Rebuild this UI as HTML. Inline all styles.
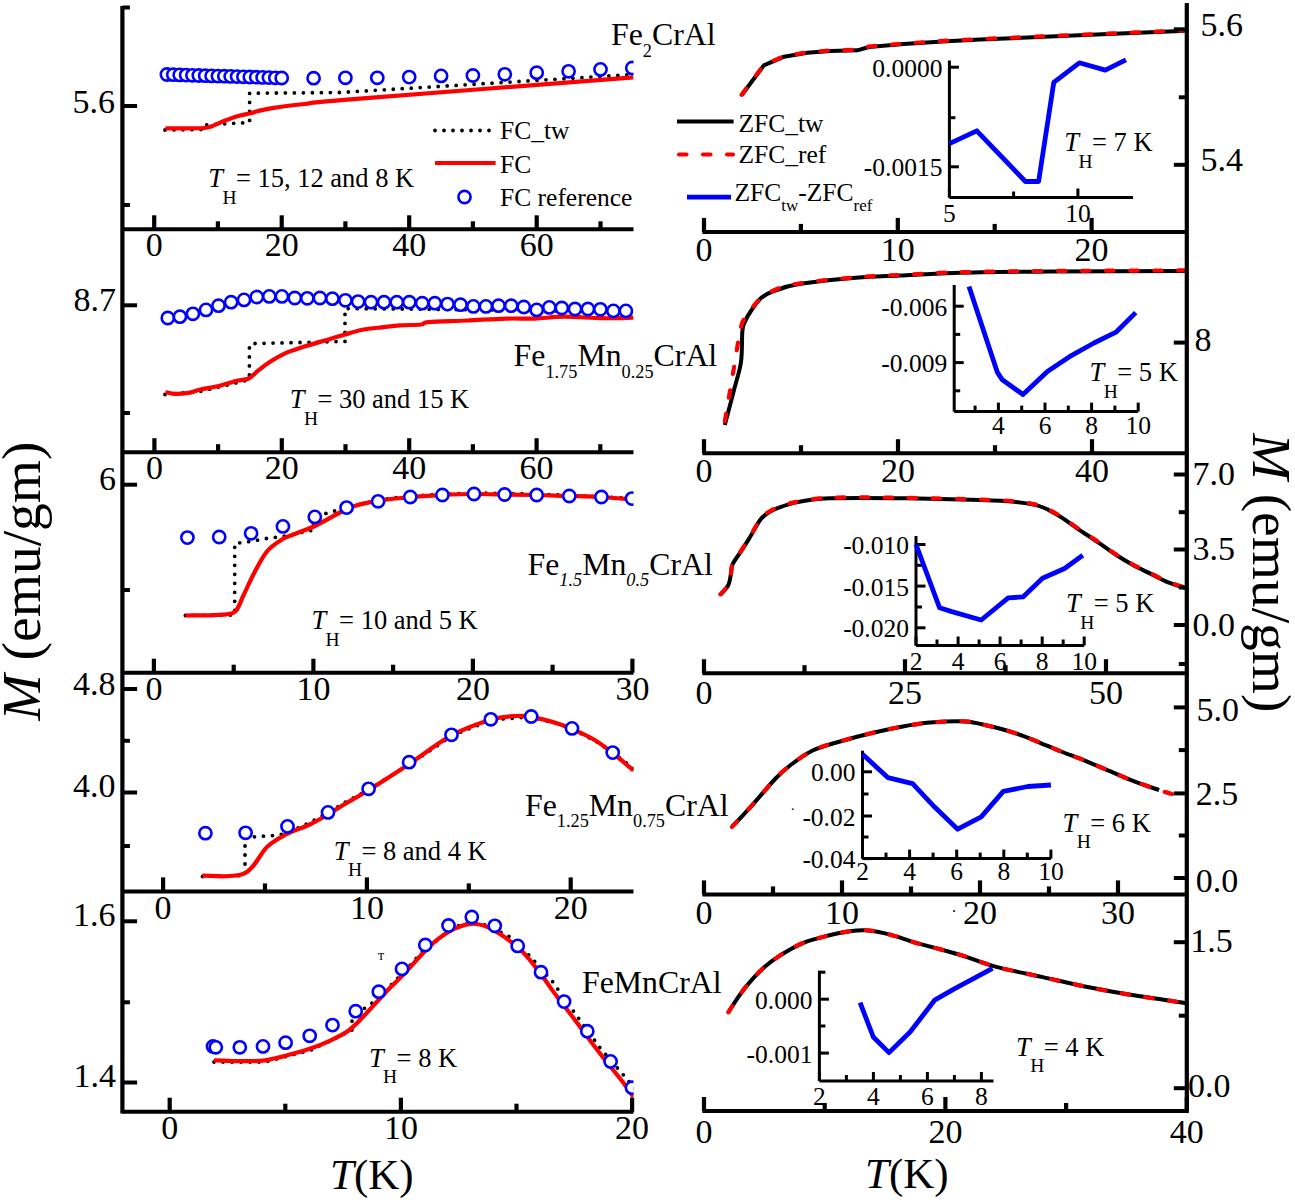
<!DOCTYPE html>
<html><head><meta charset="utf-8"><style>
html,body{margin:0;padding:0;background:#fff;overflow:hidden;}
svg{display:block;}
</style></head><body>
<svg width="1295" height="1202" viewBox="0 0 1295 1202">
<defs><clipPath id="cL1"><rect x="124" y="5" width="509.5" height="224.3"/></clipPath><clipPath id="cL2"><rect x="124" y="229.3" width="509.5" height="222.89999999999998"/></clipPath><clipPath id="cL3"><rect x="124" y="452.2" width="509.5" height="220.50000000000006"/></clipPath><clipPath id="cL4"><rect x="124" y="672.7" width="509.5" height="218.69999999999993"/></clipPath><clipPath id="cL5"><rect x="124" y="891.4" width="509.5" height="220.30000000000007"/></clipPath></defs>
<rect x="0" y="0" width="1295" height="1202" fill="#fff"/>
<g font-family='"Liberation Serif", serif' fill="#000">
<g clip-path="url(#cL1)">
<polyline points="165.0,130.0 204.0,129.5 205.6,124.9 249.6,122.5 249.6,93.2 255.0,93.2 340.0,92.5 633.5,74.5" fill="none" stroke="#000" stroke-width="3.8" stroke-linejoin="round" stroke-dasharray="0 9" stroke-linecap="round"/>
<path d="M165.4,128.3 C171.8,128.2 195.8,128.6 204.0,128.0 C212.2,127.4 211.6,126.1 214.9,124.9 C218.2,123.7 220.5,122.4 224.1,121.0 C227.7,119.6 232.1,117.7 236.5,116.4 C240.9,115.1 246.8,114.2 250.4,113.3 C254.0,112.4 254.2,111.9 258.1,111.0 C262.0,110.1 265.9,109.1 273.6,107.9 C281.3,106.7 291.7,105.4 304.4,104.0 C317.1,102.6 295.1,103.9 350.0,99.4 C404.9,95.0 586.2,81.0 633.5,77.3" fill="none" stroke="#ff0000" stroke-width="4.2" stroke-linejoin="round" />
<circle cx="166.9" cy="74.5" r="6.1" fill="#fff" stroke="#0000ff" stroke-width="2.6"/>
<circle cx="173.3" cy="74.7" r="6.1" fill="#fff" stroke="#0000ff" stroke-width="2.6"/>
<circle cx="179.7" cy="74.9" r="6.1" fill="#fff" stroke="#0000ff" stroke-width="2.6"/>
<circle cx="186.1" cy="75.1" r="6.1" fill="#fff" stroke="#0000ff" stroke-width="2.6"/>
<circle cx="192.4" cy="75.3" r="6.1" fill="#fff" stroke="#0000ff" stroke-width="2.6"/>
<circle cx="198.8" cy="75.5" r="6.1" fill="#fff" stroke="#0000ff" stroke-width="2.6"/>
<circle cx="205.2" cy="75.7" r="6.1" fill="#fff" stroke="#0000ff" stroke-width="2.6"/>
<circle cx="211.6" cy="75.9" r="6.1" fill="#fff" stroke="#0000ff" stroke-width="2.6"/>
<circle cx="217.9" cy="76.1" r="6.1" fill="#fff" stroke="#0000ff" stroke-width="2.6"/>
<circle cx="224.3" cy="76.2" r="6.1" fill="#fff" stroke="#0000ff" stroke-width="2.6"/>
<circle cx="230.7" cy="76.4" r="6.1" fill="#fff" stroke="#0000ff" stroke-width="2.6"/>
<circle cx="237.1" cy="76.6" r="6.1" fill="#fff" stroke="#0000ff" stroke-width="2.6"/>
<circle cx="243.4" cy="76.8" r="6.1" fill="#fff" stroke="#0000ff" stroke-width="2.6"/>
<circle cx="249.8" cy="77.0" r="6.1" fill="#fff" stroke="#0000ff" stroke-width="2.6"/>
<circle cx="256.2" cy="77.2" r="6.1" fill="#fff" stroke="#0000ff" stroke-width="2.6"/>
<circle cx="262.6" cy="77.4" r="6.1" fill="#fff" stroke="#0000ff" stroke-width="2.6"/>
<circle cx="268.9" cy="77.6" r="6.1" fill="#fff" stroke="#0000ff" stroke-width="2.6"/>
<circle cx="275.3" cy="77.8" r="6.1" fill="#fff" stroke="#0000ff" stroke-width="2.6"/>
<circle cx="281.7" cy="78.0" r="6.1" fill="#fff" stroke="#0000ff" stroke-width="2.6"/>
<circle cx="313.6" cy="78.2" r="6.1" fill="#fff" stroke="#0000ff" stroke-width="2.6"/>
<circle cx="345.4" cy="77.8" r="6.1" fill="#fff" stroke="#0000ff" stroke-width="2.6"/>
<circle cx="377.3" cy="77.8" r="6.1" fill="#fff" stroke="#0000ff" stroke-width="2.6"/>
<circle cx="409.2" cy="77.1" r="6.1" fill="#fff" stroke="#0000ff" stroke-width="2.6"/>
<circle cx="441.1" cy="75.9" r="6.1" fill="#fff" stroke="#0000ff" stroke-width="2.6"/>
<circle cx="472.9" cy="75.5" r="6.1" fill="#fff" stroke="#0000ff" stroke-width="2.6"/>
<circle cx="504.8" cy="74.3" r="6.1" fill="#fff" stroke="#0000ff" stroke-width="2.6"/>
<circle cx="536.7" cy="72.7" r="6.1" fill="#fff" stroke="#0000ff" stroke-width="2.6"/>
<circle cx="568.6" cy="71.3" r="6.1" fill="#fff" stroke="#0000ff" stroke-width="2.6"/>
<circle cx="600.5" cy="69.4" r="6.1" fill="#fff" stroke="#0000ff" stroke-width="2.6"/>
<circle cx="632.3" cy="68.0" r="6.1" fill="#fff" stroke="#0000ff" stroke-width="2.6"/>
</g>
<g clip-path="url(#cL2)">
<polyline points="165.0,394.5 200.0,391.5 248.0,380.0 249.4,378.0 249.4,344.7 255.0,343.5 300.0,342.5 345.0,341.4 345.0,308.6 400.0,309.0 500.0,310.0 633.5,312.0" fill="none" stroke="#000" stroke-width="3.8" stroke-linejoin="round" stroke-dasharray="0 9" stroke-linecap="round"/>
<path d="M165.4,392.0 C167.0,392.3 171.2,393.8 175.1,393.9 C179.0,394.0 184.4,393.6 188.6,392.9 C192.8,392.2 195.4,390.6 200.2,389.5 C205.0,388.4 211.5,387.6 217.6,386.2 C223.7,384.8 231.8,382.1 236.9,380.8 C242.1,379.5 245.0,380.2 248.5,378.5 C252.0,376.8 254.6,373.4 258.1,370.7 C261.6,367.9 265.2,364.9 269.7,362.0 C274.2,359.1 279.3,356.0 285.1,353.4 C290.9,350.8 298.0,348.7 304.4,346.6 C310.8,344.5 317.2,342.7 323.7,340.8 C330.1,338.9 336.7,336.8 343.1,335.0 C349.6,333.2 356.0,331.1 362.4,329.8 C368.8,328.5 375.4,328.0 381.7,327.3 C388.0,326.6 393.5,325.9 400.0,325.4 C406.5,324.9 416.1,325.1 420.9,324.5 C425.7,323.9 420.9,322.8 428.6,322.1 C436.3,321.4 454.3,321.1 467.2,320.5 C480.1,319.9 494.5,318.9 505.8,318.6 C517.1,318.3 525.1,318.9 534.8,318.6 C544.4,318.3 552.4,316.8 563.7,316.7 C575.0,316.6 590.8,318.0 602.4,318.2 C614.0,318.4 628.3,317.7 633.5,317.6" fill="none" stroke="#ff0000" stroke-width="4.2" stroke-linejoin="round" />
<circle cx="167.8" cy="318.0" r="6.1" fill="#fff" stroke="#0000ff" stroke-width="2.6"/>
<circle cx="179.9" cy="316.7" r="6.1" fill="#fff" stroke="#0000ff" stroke-width="2.6"/>
<circle cx="192.9" cy="313.8" r="6.1" fill="#fff" stroke="#0000ff" stroke-width="2.6"/>
<circle cx="206.0" cy="309.9" r="6.1" fill="#fff" stroke="#0000ff" stroke-width="2.6"/>
<circle cx="218.5" cy="305.7" r="6.1" fill="#fff" stroke="#0000ff" stroke-width="2.6"/>
<circle cx="231.1" cy="302.2" r="6.1" fill="#fff" stroke="#0000ff" stroke-width="2.6"/>
<circle cx="244.0" cy="299.9" r="6.1" fill="#fff" stroke="#0000ff" stroke-width="2.6"/>
<circle cx="256.8" cy="297.0" r="6.1" fill="#fff" stroke="#0000ff" stroke-width="2.6"/>
<circle cx="269.3" cy="296.4" r="6.1" fill="#fff" stroke="#0000ff" stroke-width="2.6"/>
<circle cx="281.9" cy="296.4" r="6.1" fill="#fff" stroke="#0000ff" stroke-width="2.6"/>
<circle cx="294.8" cy="298.0" r="6.1" fill="#fff" stroke="#0000ff" stroke-width="2.6"/>
<circle cx="307.3" cy="298.3" r="6.1" fill="#fff" stroke="#0000ff" stroke-width="2.6"/>
<circle cx="319.9" cy="298.0" r="6.1" fill="#fff" stroke="#0000ff" stroke-width="2.6"/>
<circle cx="332.4" cy="298.7" r="6.1" fill="#fff" stroke="#0000ff" stroke-width="2.6"/>
<circle cx="345.4" cy="300.3" r="6.1" fill="#fff" stroke="#0000ff" stroke-width="2.6"/>
<circle cx="358.1" cy="301.6" r="6.1" fill="#fff" stroke="#0000ff" stroke-width="2.6"/>
<circle cx="371.0" cy="302.2" r="6.1" fill="#fff" stroke="#0000ff" stroke-width="2.6"/>
<circle cx="384.0" cy="302.2" r="6.1" fill="#fff" stroke="#0000ff" stroke-width="2.6"/>
<circle cx="396.8" cy="302.2" r="6.1" fill="#fff" stroke="#0000ff" stroke-width="2.6"/>
<circle cx="409.3" cy="302.2" r="6.1" fill="#fff" stroke="#0000ff" stroke-width="2.6"/>
<circle cx="422.2" cy="303.2" r="6.1" fill="#fff" stroke="#0000ff" stroke-width="2.6"/>
<circle cx="434.8" cy="303.2" r="6.1" fill="#fff" stroke="#0000ff" stroke-width="2.6"/>
<circle cx="447.5" cy="304.1" r="6.1" fill="#fff" stroke="#0000ff" stroke-width="2.6"/>
<circle cx="460.5" cy="304.7" r="6.1" fill="#fff" stroke="#0000ff" stroke-width="2.6"/>
<circle cx="473.4" cy="306.4" r="6.1" fill="#fff" stroke="#0000ff" stroke-width="2.6"/>
<circle cx="485.9" cy="306.4" r="6.1" fill="#fff" stroke="#0000ff" stroke-width="2.6"/>
<circle cx="498.5" cy="305.7" r="6.1" fill="#fff" stroke="#0000ff" stroke-width="2.6"/>
<circle cx="511.2" cy="305.7" r="6.1" fill="#fff" stroke="#0000ff" stroke-width="2.6"/>
<circle cx="523.8" cy="307.0" r="6.1" fill="#fff" stroke="#0000ff" stroke-width="2.6"/>
<circle cx="536.7" cy="309.9" r="6.1" fill="#fff" stroke="#0000ff" stroke-width="2.6"/>
<circle cx="549.3" cy="307.4" r="6.1" fill="#fff" stroke="#0000ff" stroke-width="2.6"/>
<circle cx="561.8" cy="308.0" r="6.1" fill="#fff" stroke="#0000ff" stroke-width="2.6"/>
<circle cx="575.0" cy="309.0" r="6.1" fill="#fff" stroke="#0000ff" stroke-width="2.6"/>
<circle cx="587.9" cy="309.0" r="6.1" fill="#fff" stroke="#0000ff" stroke-width="2.6"/>
<circle cx="600.4" cy="309.3" r="6.1" fill="#fff" stroke="#0000ff" stroke-width="2.6"/>
<circle cx="613.4" cy="310.9" r="6.1" fill="#fff" stroke="#0000ff" stroke-width="2.6"/>
<circle cx="625.9" cy="310.9" r="6.1" fill="#fff" stroke="#0000ff" stroke-width="2.6"/>
</g>
<g clip-path="url(#cL3)">
<polyline points="185.4,615.5 234.7,615.0 234.7,543.4 251.0,541.4 266.5,538.5 282.0,536.6 313.5,530.0 313.5,520.0 324.0,514.0 340.0,509.5 378.0,500.0 410.0,496.0 474.0,493.0 536.7,494.0 633.5,498.5" fill="none" stroke="#000" stroke-width="3.8" stroke-linejoin="round" stroke-dasharray="0 9" stroke-linecap="round"/>
<path d="M185.4,615.5 C190.9,615.4 210.1,615.4 218.3,614.8 C226.5,614.2 230.5,615.1 234.7,611.9 C238.9,608.7 240.3,601.6 243.4,595.5 C246.5,589.4 249.2,582.5 253.0,575.2 C256.9,568.0 261.7,558.0 266.5,552.0 C271.3,546.0 277.2,542.5 282.0,539.5 C286.8,536.5 290.0,536.0 295.5,533.7 C301.0,531.5 307.4,529.5 314.8,526.0 C322.2,522.5 333.1,515.9 339.9,512.5 C346.6,509.1 348.9,507.6 355.3,505.7 C361.7,503.8 369.3,502.3 378.5,500.9 C387.7,499.4 399.7,498.0 410.3,497.0 C420.9,496.0 431.8,495.5 442.4,495.0 C453.0,494.5 463.6,494.1 474.0,494.0 C484.4,493.9 494.2,494.3 504.6,494.5 C515.1,494.7 525.9,494.8 536.7,495.0 C547.5,495.2 558.5,495.7 569.3,496.0 C580.1,496.3 590.7,496.4 601.4,497.0 C612.1,497.6 628.1,499.2 633.5,499.6" fill="none" stroke="#ff0000" stroke-width="4.2" stroke-linejoin="round" />
<circle cx="187.4" cy="537.6" r="6.1" fill="#fff" stroke="#0000ff" stroke-width="2.6"/>
<circle cx="219.2" cy="537.0" r="6.1" fill="#fff" stroke="#0000ff" stroke-width="2.6"/>
<circle cx="251.1" cy="533.3" r="6.1" fill="#fff" stroke="#0000ff" stroke-width="2.6"/>
<circle cx="282.9" cy="526.4" r="6.1" fill="#fff" stroke="#0000ff" stroke-width="2.6"/>
<circle cx="314.8" cy="516.9" r="6.1" fill="#fff" stroke="#0000ff" stroke-width="2.6"/>
<circle cx="346.6" cy="507.6" r="6.1" fill="#fff" stroke="#0000ff" stroke-width="2.6"/>
<circle cx="378.1" cy="501.3" r="6.1" fill="#fff" stroke="#0000ff" stroke-width="2.6"/>
<circle cx="410.3" cy="497.0" r="6.1" fill="#fff" stroke="#0000ff" stroke-width="2.6"/>
<circle cx="442.4" cy="495.0" r="6.1" fill="#fff" stroke="#0000ff" stroke-width="2.6"/>
<circle cx="474.0" cy="494.0" r="6.1" fill="#fff" stroke="#0000ff" stroke-width="2.6"/>
<circle cx="504.6" cy="494.5" r="6.1" fill="#fff" stroke="#0000ff" stroke-width="2.6"/>
<circle cx="536.7" cy="495.0" r="6.1" fill="#fff" stroke="#0000ff" stroke-width="2.6"/>
<circle cx="569.3" cy="496.0" r="6.1" fill="#fff" stroke="#0000ff" stroke-width="2.6"/>
<circle cx="601.4" cy="497.0" r="6.1" fill="#fff" stroke="#0000ff" stroke-width="2.6"/>
<circle cx="632.0" cy="498.6" r="6.1" fill="#fff" stroke="#0000ff" stroke-width="2.6"/>
</g>
<g clip-path="url(#cL4)">
<polyline points="202.5,876.5 245.0,875.5 245.0,837.5 278.8,835.1 287.0,833.0 309.7,822.5 330.0,811.9 345.4,802.2 368.6,789.7 409.1,764.7 452.5,735.4 491.8,719.7 531.2,716.9 560.0,724.4 575.0,730.5 596.6,741.5 614.7,754.0 633.5,768.5" fill="none" stroke="#000" stroke-width="3.8" stroke-linejoin="round" stroke-dasharray="0 9" stroke-linecap="round"/>
<path d="M202.5,875.7 C209.4,875.4 233.2,878.5 244.0,873.7 C254.8,868.9 260.1,853.3 267.2,846.7 C274.3,840.1 279.4,837.9 286.5,834.2 C293.6,830.5 302.6,827.9 309.7,824.5 C316.8,821.1 323.2,817.3 329.0,813.9 C334.8,810.5 338.0,808.1 344.4,804.2 C350.8,800.3 357.0,797.3 367.6,790.7 C378.2,784.1 394.1,773.9 408.1,764.7 C422.1,755.5 437.7,742.9 451.5,735.4 C465.3,727.9 480.2,722.9 490.8,719.7 C501.4,716.5 508.2,716.5 514.9,716.0 C521.6,715.5 524.1,715.7 531.2,716.9 C538.3,718.1 550.7,721.4 557.5,723.4 C564.3,725.4 565.8,726.1 572.0,728.9 C578.2,731.7 587.8,736.0 594.6,740.0 C601.4,744.0 606.2,747.9 612.7,753.0 C619.2,758.1 630.0,767.6 633.5,770.5" fill="none" stroke="#ff0000" stroke-width="4.2" stroke-linejoin="round" />
<circle cx="205.4" cy="833.2" r="6.1" fill="#fff" stroke="#0000ff" stroke-width="2.6"/>
<circle cx="245.6" cy="832.8" r="6.1" fill="#fff" stroke="#0000ff" stroke-width="2.6"/>
<circle cx="287.5" cy="826.4" r="6.1" fill="#fff" stroke="#0000ff" stroke-width="2.6"/>
<circle cx="328.0" cy="812.4" r="6.1" fill="#fff" stroke="#0000ff" stroke-width="2.6"/>
<circle cx="368.6" cy="788.8" r="6.1" fill="#fff" stroke="#0000ff" stroke-width="2.6"/>
<circle cx="409.1" cy="762.2" r="6.1" fill="#fff" stroke="#0000ff" stroke-width="2.6"/>
<circle cx="451.5" cy="734.8" r="6.1" fill="#fff" stroke="#0000ff" stroke-width="2.6"/>
<circle cx="490.8" cy="719.3" r="6.1" fill="#fff" stroke="#0000ff" stroke-width="2.6"/>
<circle cx="531.2" cy="716.5" r="6.1" fill="#fff" stroke="#0000ff" stroke-width="2.6"/>
<circle cx="572.0" cy="728.4" r="6.1" fill="#fff" stroke="#0000ff" stroke-width="2.6"/>
<circle cx="612.7" cy="752.6" r="6.1" fill="#fff" stroke="#0000ff" stroke-width="2.6"/>
</g>
<g clip-path="url(#cL5)">
<polyline points="214.0,1062.0 264.9,1062.0 311.0,1050.0 348.0,1032.0 352.0,1030.0 352.0,1021.0 363.0,1009.3 372.4,1002.9 385.3,990.7 403.9,972.1 422.4,951.7 454.0,927.0 471.0,922.0 488.0,925.5 510.0,937.0 525.3,951.0 552.5,981.6 572.9,1010.4 600.0,1047.8 625.6,1077.5 640.0,1095.0" fill="none" stroke="#000" stroke-width="3.8" stroke-linejoin="round" stroke-dasharray="0 9" stroke-linecap="round"/>
<path d="M213.9,1060.3 C217.8,1060.5 228.6,1061.2 237.1,1061.2 C245.6,1061.2 255.6,1061.5 264.9,1060.3 C274.2,1059.1 285.0,1055.8 292.7,1053.8 C300.4,1051.8 305.0,1050.5 311.2,1048.3 C317.4,1046.1 323.5,1043.7 329.7,1040.8 C335.9,1037.9 342.7,1034.7 348.3,1030.7 C353.9,1026.7 356.9,1023.1 363.1,1016.8 C369.3,1010.5 378.5,999.8 385.3,992.7 C392.1,985.6 397.7,980.6 403.9,974.1 C410.1,967.6 416.9,959.4 422.4,953.7 C427.9,948.0 431.7,944.0 437.0,939.9 C442.3,935.8 448.3,931.6 454.0,928.9 C459.7,926.2 465.3,924.1 471.0,923.8 C476.7,923.5 482.3,924.9 488.0,927.2 C493.7,929.5 499.4,933.4 505.0,937.4 C510.6,941.4 516.2,945.3 521.9,951.0 C527.5,956.7 533.2,964.0 538.9,971.4 C544.6,978.8 550.2,987.5 555.9,995.1 C561.6,1002.7 567.2,1009.7 572.9,1017.2 C578.6,1024.7 584.2,1032.7 589.9,1040.2 C595.6,1047.7 601.2,1055.0 606.9,1062.2 C612.6,1069.4 619.5,1077.7 623.9,1083.5 C628.3,1089.3 631.9,1094.8 633.5,1097.0" fill="none" stroke="#ff0000" stroke-width="4.2" stroke-linejoin="round" />
<circle cx="213.0" cy="1046.4" r="6.1" fill="#fff" stroke="#0000ff" stroke-width="2.6"/>
<circle cx="215.8" cy="1047.3" r="6.1" fill="#fff" stroke="#0000ff" stroke-width="2.6"/>
<circle cx="239.8" cy="1047.3" r="6.1" fill="#fff" stroke="#0000ff" stroke-width="2.6"/>
<circle cx="263.0" cy="1046.4" r="6.1" fill="#fff" stroke="#0000ff" stroke-width="2.6"/>
<circle cx="285.6" cy="1042.7" r="6.1" fill="#fff" stroke="#0000ff" stroke-width="2.6"/>
<circle cx="309.7" cy="1035.8" r="6.1" fill="#fff" stroke="#0000ff" stroke-width="2.6"/>
<circle cx="332.5" cy="1025.1" r="6.1" fill="#fff" stroke="#0000ff" stroke-width="2.6"/>
<circle cx="355.7" cy="1011.2" r="6.1" fill="#fff" stroke="#0000ff" stroke-width="2.6"/>
<circle cx="378.8" cy="991.7" r="6.1" fill="#fff" stroke="#0000ff" stroke-width="2.6"/>
<circle cx="402.0" cy="968.9" r="6.1" fill="#fff" stroke="#0000ff" stroke-width="2.6"/>
<circle cx="425.3" cy="945.0" r="6.1" fill="#fff" stroke="#0000ff" stroke-width="2.6"/>
<circle cx="448.5" cy="925.5" r="6.1" fill="#fff" stroke="#0000ff" stroke-width="2.6"/>
<circle cx="471.8" cy="917.0" r="6.1" fill="#fff" stroke="#0000ff" stroke-width="2.6"/>
<circle cx="494.8" cy="925.8" r="6.1" fill="#fff" stroke="#0000ff" stroke-width="2.6"/>
<circle cx="517.7" cy="945.9" r="6.1" fill="#fff" stroke="#0000ff" stroke-width="2.6"/>
<circle cx="541.0" cy="972.2" r="6.1" fill="#fff" stroke="#0000ff" stroke-width="2.6"/>
<circle cx="564.1" cy="1001.6" r="6.1" fill="#fff" stroke="#0000ff" stroke-width="2.6"/>
<circle cx="587.3" cy="1031.2" r="6.1" fill="#fff" stroke="#0000ff" stroke-width="2.6"/>
<circle cx="610.6" cy="1061.4" r="6.1" fill="#fff" stroke="#0000ff" stroke-width="2.6"/>
<circle cx="632.0" cy="1087.7" r="6.1" fill="#fff" stroke="#0000ff" stroke-width="2.6"/>
</g>
<text x="377.9" y="960.0" font-size="14" text-anchor="start" >т</text>
<line x1="122.4" y1="6.0" x2="122.4" y2="1113.5" stroke="#000" stroke-width="4.2" />
<line x1="122.4" y1="229.3" x2="633.5" y2="229.3" stroke="#000" stroke-width="4.0" />
<line x1="154.2" y1="229.3" x2="154.2" y2="215.3" stroke="#000" stroke-width="4.2" />
<line x1="281.7" y1="229.3" x2="281.7" y2="215.3" stroke="#000" stroke-width="4.2" />
<line x1="409.2" y1="229.3" x2="409.2" y2="215.3" stroke="#000" stroke-width="4.2" />
<line x1="536.7" y1="229.3" x2="536.7" y2="215.3" stroke="#000" stroke-width="4.2" />
<line x1="217.9" y1="229.3" x2="217.9" y2="221.3" stroke="#000" stroke-width="4.2" />
<line x1="345.4" y1="229.3" x2="345.4" y2="221.3" stroke="#000" stroke-width="4.2" />
<line x1="472.9" y1="229.3" x2="472.9" y2="221.3" stroke="#000" stroke-width="4.2" />
<line x1="600.5" y1="229.3" x2="600.5" y2="221.3" stroke="#000" stroke-width="4.2" />
<text x="154.2" y="256.3" font-size="34" text-anchor="middle" >0</text>
<text x="281.7" y="256.3" font-size="34" text-anchor="middle" >20</text>
<text x="409.2" y="256.3" font-size="34" text-anchor="middle" >40</text>
<text x="536.7" y="256.3" font-size="34" text-anchor="middle" >60</text>
<line x1="122.4" y1="106.0" x2="137.1" y2="106.0" stroke="#000" stroke-width="4.0" />
<line x1="122.4" y1="7.5" x2="129.9" y2="7.5" stroke="#000" stroke-width="4.0" />
<line x1="122.4" y1="205.0" x2="129.9" y2="205.0" stroke="#000" stroke-width="4.0" />
<text x="115.0" y="112.5" font-size="34" text-anchor="end" >5.6</text>
<line x1="122.4" y1="452.2" x2="633.5" y2="452.2" stroke="#000" stroke-width="4.0" />
<line x1="154.4" y1="452.2" x2="154.4" y2="438.2" stroke="#000" stroke-width="4.2" />
<line x1="281.8" y1="452.2" x2="281.8" y2="438.2" stroke="#000" stroke-width="4.2" />
<line x1="409.2" y1="452.2" x2="409.2" y2="438.2" stroke="#000" stroke-width="4.2" />
<line x1="536.6" y1="452.2" x2="536.6" y2="438.2" stroke="#000" stroke-width="4.2" />
<line x1="218.1" y1="452.2" x2="218.1" y2="444.2" stroke="#000" stroke-width="4.2" />
<line x1="345.5" y1="452.2" x2="345.5" y2="444.2" stroke="#000" stroke-width="4.2" />
<line x1="472.9" y1="452.2" x2="472.9" y2="444.2" stroke="#000" stroke-width="4.2" />
<line x1="600.3" y1="452.2" x2="600.3" y2="444.2" stroke="#000" stroke-width="4.2" />
<text x="154.4" y="479.0" font-size="34" text-anchor="middle" >0</text>
<text x="281.8" y="479.0" font-size="34" text-anchor="middle" >20</text>
<text x="409.2" y="479.0" font-size="34" text-anchor="middle" >40</text>
<text x="536.6" y="479.0" font-size="34" text-anchor="middle" >60</text>
<line x1="122.4" y1="305.3" x2="137.1" y2="305.3" stroke="#000" stroke-width="4.0" />
<line x1="122.4" y1="413.0" x2="129.9" y2="413.0" stroke="#000" stroke-width="4.0" />
<text x="116.0" y="310.5" font-size="34" text-anchor="end" >8.7</text>
<line x1="122.4" y1="672.7" x2="633.5" y2="672.7" stroke="#000" stroke-width="4.0" />
<line x1="153.9" y1="672.7" x2="153.9" y2="658.7" stroke="#000" stroke-width="4.2" />
<line x1="313.4" y1="672.7" x2="313.4" y2="658.7" stroke="#000" stroke-width="4.2" />
<line x1="472.9" y1="672.7" x2="472.9" y2="658.7" stroke="#000" stroke-width="4.2" />
<line x1="632.4" y1="672.7" x2="632.4" y2="658.7" stroke="#000" stroke-width="4.2" />
<line x1="233.7" y1="672.7" x2="233.7" y2="664.7" stroke="#000" stroke-width="4.2" />
<line x1="393.1" y1="672.7" x2="393.1" y2="664.7" stroke="#000" stroke-width="4.2" />
<line x1="552.6" y1="672.7" x2="552.6" y2="664.7" stroke="#000" stroke-width="4.2" />
<text x="153.9" y="700.0" font-size="34" text-anchor="middle" >0</text>
<text x="313.4" y="700.0" font-size="34" text-anchor="middle" >10</text>
<text x="472.9" y="700.0" font-size="34" text-anchor="middle" >20</text>
<text x="632.4" y="700.0" font-size="34" text-anchor="middle" >30</text>
<line x1="122.4" y1="484.7" x2="137.1" y2="484.7" stroke="#000" stroke-width="4.0" />
<line x1="122.4" y1="590.0" x2="129.9" y2="590.0" stroke="#000" stroke-width="4.0" />
<text x="116.0" y="490.0" font-size="34" text-anchor="end" >6</text>
<line x1="122.4" y1="891.4" x2="633.5" y2="891.4" stroke="#000" stroke-width="4.0" />
<line x1="163.1" y1="891.4" x2="163.1" y2="877.4" stroke="#000" stroke-width="4.2" />
<line x1="366.9" y1="891.4" x2="366.9" y2="877.4" stroke="#000" stroke-width="4.2" />
<line x1="570.7" y1="891.4" x2="570.7" y2="877.4" stroke="#000" stroke-width="4.2" />
<line x1="265.0" y1="891.4" x2="265.0" y2="883.4" stroke="#000" stroke-width="4.2" />
<line x1="468.8" y1="891.4" x2="468.8" y2="883.4" stroke="#000" stroke-width="4.2" />
<text x="163.1" y="918.5" font-size="34" text-anchor="middle" >0</text>
<text x="366.9" y="918.5" font-size="34" text-anchor="middle" >10</text>
<text x="570.7" y="918.5" font-size="34" text-anchor="middle" >20</text>
<line x1="122.4" y1="689.0" x2="137.1" y2="689.0" stroke="#000" stroke-width="4.0" />
<line x1="122.4" y1="792.5" x2="137.1" y2="792.5" stroke="#000" stroke-width="4.0" />
<line x1="122.4" y1="740.8" x2="129.9" y2="740.8" stroke="#000" stroke-width="4.0" />
<line x1="122.4" y1="846.0" x2="129.9" y2="846.0" stroke="#000" stroke-width="4.0" />
<text x="115.5" y="694.5" font-size="34" text-anchor="end" >4.8</text>
<text x="115.5" y="797.0" font-size="34" text-anchor="end" >4.0</text>
<line x1="122.4" y1="1111.7" x2="633.5" y2="1111.7" stroke="#000" stroke-width="4.0" />
<line x1="169.7" y1="1111.7" x2="169.7" y2="1097.7" stroke="#000" stroke-width="4.2" />
<line x1="400.9" y1="1111.7" x2="400.9" y2="1097.7" stroke="#000" stroke-width="4.2" />
<line x1="632.1" y1="1111.7" x2="632.1" y2="1097.7" stroke="#000" stroke-width="4.2" />
<line x1="285.3" y1="1111.7" x2="285.3" y2="1103.7" stroke="#000" stroke-width="4.2" />
<line x1="516.5" y1="1111.7" x2="516.5" y2="1103.7" stroke="#000" stroke-width="4.2" />
<text x="169.7" y="1139.0" font-size="34" text-anchor="middle" >0</text>
<text x="400.9" y="1139.0" font-size="34" text-anchor="middle" >10</text>
<text x="632.1" y="1139.0" font-size="34" text-anchor="middle" >20</text>
<line x1="122.4" y1="921.3" x2="137.1" y2="921.3" stroke="#000" stroke-width="4.0" />
<line x1="122.4" y1="1082.5" x2="137.1" y2="1082.5" stroke="#000" stroke-width="4.0" />
<line x1="122.4" y1="1002.3" x2="129.9" y2="1002.3" stroke="#000" stroke-width="4.0" />
<text x="115.5" y="926.0" font-size="34" text-anchor="end" >1.6</text>
<text x="116.0" y="1086.5" font-size="34" text-anchor="end" >1.4</text>
<line x1="435.0" y1="130.5" x2="490.0" y2="130.5" stroke="#000" stroke-width="3.8" stroke-dasharray="0 9" stroke-linecap="round"/>
<text x="500.0" y="139.0" font-size="25.5" text-anchor="start" >FC_tw</text>
<line x1="435.0" y1="163.0" x2="495.6" y2="163.0" stroke="#ff0000" stroke-width="4.2" />
<text x="500.0" y="173.0" font-size="25.5" text-anchor="start" >FC</text>
<circle cx="464.5" cy="197.0" r="6.1" fill="#fff" stroke="#0000ff" stroke-width="2.6"/>
<text x="500.0" y="205.7" font-size="25.5" text-anchor="start" >FC reference</text>
<text x="208.2" y="187.2" font-size="26.5" font-style="italic">T</text>
<text x="222.4" y="204.0" font-size="19.5">H</text>
<text x="235.9" y="187.2" font-size="26.5">= 15, 12 and 8 K</text>
<text x="289.7" y="408.0" font-size="26.5" font-style="italic">T</text>
<text x="303.9" y="424.8" font-size="19.5">H</text>
<text x="317.4" y="408.0" font-size="26.5">= 30 and 15 K</text>
<text x="311.4" y="628.7" font-size="26.5" font-style="italic">T</text>
<text x="325.6" y="645.5" font-size="19.5">H</text>
<text x="339.1" y="628.7" font-size="26.5">= 10 and 5 K</text>
<text x="333.7" y="859.6" font-size="26.5" font-style="italic">T</text>
<text x="347.9" y="876.4" font-size="19.5">H</text>
<text x="361.4" y="859.6" font-size="26.5">= 8 and 4 K</text>
<text x="368.9" y="1066.5" font-size="26.5" font-style="italic">T</text>
<text x="383.1" y="1083.3" font-size="19.5">H</text>
<text x="396.6" y="1066.5" font-size="26.5">= 8 K</text>
<text x="611.0" y="45.0" font-size="31.8"><tspan dy="0">Fe</tspan><tspan dy="11.5" font-size="18.3">2</tspan><tspan dy="-11.5">CrAl</tspan></text>
<text x="513.6" y="366.3" font-size="31.8"><tspan dy="0">Fe</tspan><tspan dy="11.5" font-size="18.3">1.75</tspan><tspan dy="-11.5">Mn</tspan><tspan dy="11.5" font-size="18.3">0.25</tspan><tspan dy="-11.5">CrAl</tspan></text>
<text x="527.5" y="574.5" font-size="31.8"><tspan dy="0">Fe</tspan><tspan dy="11.5" font-size="18.3" font-style="italic">1.5</tspan><tspan dy="-11.5">Mn</tspan><tspan dy="11.5" font-size="18.3" font-style="italic">0.5</tspan><tspan dy="-11.5">CrAl</tspan></text>
<text x="525.0" y="815.5" font-size="31.8"><tspan dy="0">Fe</tspan><tspan dy="11.5" font-size="18.3">1.25</tspan><tspan dy="-11.5">Mn</tspan><tspan dy="11.5" font-size="18.3">0.75</tspan><tspan dy="-11.5">CrAl</tspan></text>
<text x="582.0" y="992.6" font-size="31.8"><tspan dy="0">FeMnCrAl</tspan></text>
<polyline points="741.6,95.3 763.8,65.4 784.1,56.7 807.2,52.8 830.4,50.9 857.4,50.3 869.0,47.0 903.7,44.1 942.4,41.4 980.0,39.6 1050.0,36.6 1120.0,33.6 1187.0,30.8" fill="none" stroke="#000" stroke-width="4.0" stroke-linejoin="round" />
<polyline points="741.6,94.8 763.8,64.9 784.1,56.2 807.2,52.3 830.4,50.4 857.4,49.8 869.0,46.5 903.7,43.6 942.4,40.9 980.0,39.1 1050.0,36.1 1120.0,33.1 1187.0,30.3" fill="none" stroke="#ff0000" stroke-width="4.2" stroke-linejoin="round" stroke-dasharray="7.5 16.5" stroke-linecap="round"/>
<path d="M724.8,424.9 C725.6,422.0 727.9,413.3 729.4,407.5 C730.9,401.7 732.0,397.8 733.9,390.2 C735.8,382.6 739.6,371.9 741.0,362.0 C742.4,352.1 741.7,337.7 742.4,330.8 C743.1,323.9 743.9,324.2 745.3,320.9 C746.7,317.6 748.3,314.8 750.9,311.0 C753.5,307.2 757.0,301.6 760.8,298.3 C764.6,295.0 767.1,293.6 773.5,291.2 C779.9,288.8 785.2,286.3 799.0,284.1 C812.8,281.9 839.2,279.2 856.0,277.8 C872.8,276.4 883.6,276.3 900.0,275.5 C916.4,274.7 929.2,273.6 954.2,272.9 C979.2,272.2 1011.2,271.8 1050.0,271.5 C1088.8,271.2 1164.2,271.0 1187.0,270.9" fill="none" stroke="#000" stroke-width="4.0" stroke-linejoin="round" />
<path d="M724.8,421.3 C726.1,413.4 730.2,389.7 732.9,374.0 C735.6,358.3 738.7,336.6 741.0,327.0 C743.3,317.4 744.1,320.8 746.7,316.7 C749.3,312.6 752.1,306.9 756.6,302.5 C761.1,298.1 766.4,293.7 773.5,290.5 C780.6,287.3 785.2,285.7 799.0,283.5 C812.8,281.3 839.2,278.7 856.0,277.3 C872.8,275.9 883.6,275.8 900.0,275.0 C916.4,274.2 929.2,273.1 954.2,272.4 C979.2,271.7 1011.2,271.3 1050.0,271.0 C1088.8,270.7 1164.2,270.5 1187.0,270.4" fill="none" stroke="#ff0000" stroke-width="4.2" stroke-linejoin="round" stroke-dasharray="7.5 16.5" stroke-linecap="round"/>
<path d="M720.4,594.9 C721.7,593.2 726.6,588.5 728.4,585.0 C730.1,581.5 730.2,577.4 730.9,573.9 C731.6,570.4 731.1,567.7 732.7,564.0 C734.4,560.3 738.0,556.0 740.8,551.7 C743.6,547.4 746.1,543.5 749.4,538.1 C752.7,532.7 757.2,523.8 760.5,519.5 C763.8,515.2 765.9,514.1 769.2,512.1 C772.5,510.1 776.2,508.7 780.3,507.2 C784.4,505.7 788.8,504.1 793.9,502.9 C799.0,501.7 805.2,500.6 811.2,499.8 C817.2,499.0 821.6,498.6 829.7,498.3 C837.8,498.0 847.5,497.9 860.0,497.9 C872.5,497.9 885.0,497.9 905.0,498.3 C925.0,498.7 961.8,499.4 980.0,500.0 C998.2,500.6 1004.6,500.8 1014.0,501.7 C1023.4,502.6 1030.4,503.8 1036.1,505.1 C1041.8,506.4 1043.8,507.6 1048.0,509.7 C1052.2,511.8 1056.4,514.1 1061.5,517.4 C1066.6,520.7 1072.3,525.0 1078.5,529.3 C1084.7,533.5 1092.7,538.6 1098.9,542.9 C1105.1,547.1 1110.2,551.1 1115.9,554.8 C1121.6,558.5 1127.2,561.9 1132.9,565.0 C1138.6,568.1 1144.2,570.6 1149.9,573.4 C1155.6,576.2 1160.8,579.4 1166.9,581.9 C1173.1,584.4 1183.5,587.4 1186.8,588.5" fill="none" stroke="#000" stroke-width="4.0" stroke-linejoin="round" />
<path d="M720.4,594.4 C721.7,592.8 726.6,588.0 728.4,584.5 C730.1,581.0 730.2,576.9 730.9,573.4 C731.6,569.9 731.1,567.2 732.7,563.5 C734.4,559.8 738.0,555.5 740.8,551.2 C743.6,546.9 746.1,543.0 749.4,537.6 C752.7,532.2 757.2,523.3 760.5,519.0 C763.8,514.7 765.9,513.6 769.2,511.6 C772.5,509.6 776.2,508.2 780.3,506.7 C784.4,505.2 788.8,503.6 793.9,502.4 C799.0,501.2 805.2,500.1 811.2,499.3 C817.2,498.5 821.6,498.1 829.7,497.8 C837.8,497.5 847.5,497.4 860.0,497.4 C872.5,497.4 885.0,497.4 905.0,497.8 C925.0,498.2 961.8,498.9 980.0,499.5 C998.2,500.1 1004.6,500.3 1014.0,501.2 C1023.4,502.1 1030.4,503.3 1036.1,504.6 C1041.8,505.9 1043.8,507.1 1048.0,509.2 C1052.2,511.2 1056.4,513.6 1061.5,516.9 C1066.6,520.2 1072.3,524.5 1078.5,528.8 C1084.7,533.0 1092.7,538.1 1098.9,542.4 C1105.1,546.6 1110.2,550.6 1115.9,554.3 C1121.6,558.0 1127.2,561.4 1132.9,564.5 C1138.6,567.6 1144.2,570.1 1149.9,572.9 C1155.6,575.7 1160.8,578.9 1166.9,581.4 C1173.1,583.9 1183.5,586.9 1186.8,588.0" fill="none" stroke="#ff0000" stroke-width="4.2" stroke-linejoin="round" stroke-dasharray="7.5 16.5" stroke-linecap="round"/>
<path d="M732.0,826.9 C735.0,823.7 742.7,815.7 750.0,807.6 C757.3,799.5 768.9,785.5 775.6,778.5 C782.3,771.5 783.8,770.2 790.0,765.5 C796.2,760.8 804.4,754.5 812.7,750.5 C821.0,746.5 830.5,744.3 840.0,741.5 C849.5,738.7 860.0,735.9 870.0,733.5 C880.0,731.1 890.0,728.8 900.0,727.0 C910.0,725.2 919.1,723.5 930.0,722.6 C940.9,721.7 955.4,720.9 965.1,721.4 C974.8,721.9 980.2,723.9 988.3,725.8 C996.3,727.7 1005.4,730.0 1013.4,732.6 C1021.4,735.2 1028.8,738.2 1036.5,741.3 C1044.2,744.4 1051.7,747.8 1059.7,751.0 C1067.8,754.2 1076.4,757.2 1084.8,760.6 C1093.2,764.0 1101.9,767.8 1109.9,771.2 C1117.9,774.6 1124.8,777.8 1133.0,780.9 C1141.2,784.0 1154.8,788.6 1159.1,790.1" fill="none" stroke="#000" stroke-width="4.0" stroke-linejoin="round" />
<path d="M732.0,826.9 C735.0,823.7 742.7,815.7 750.0,807.6 C757.3,799.5 768.9,785.5 775.6,778.5 C782.3,771.5 783.8,770.2 790.0,765.5 C796.2,760.8 804.4,754.5 812.7,750.5 C821.0,746.5 830.5,744.3 840.0,741.5 C849.5,738.7 860.0,735.9 870.0,733.5 C880.0,731.1 890.0,728.8 900.0,727.0 C910.0,725.2 919.1,723.5 930.0,722.6 C940.9,721.7 955.4,720.9 965.1,721.4 C974.8,721.9 980.2,723.9 988.3,725.8 C996.3,727.7 1005.4,730.0 1013.4,732.6 C1021.4,735.2 1028.8,738.2 1036.5,741.3 C1044.2,744.4 1051.7,747.8 1059.7,751.0 C1067.8,754.2 1076.4,757.2 1084.8,760.6 C1093.2,764.0 1101.9,767.8 1109.9,771.2 C1117.9,774.6 1124.8,777.8 1133.0,780.9 C1141.2,784.0 1151.3,787.5 1159.1,790.1 C1166.9,792.7 1176.5,795.2 1180.0,796.2" fill="none" stroke="#ff0000" stroke-width="4.2" stroke-linejoin="round" stroke-dasharray="7.5 16.5" stroke-linecap="round"/>
<path d="M728.3,1012.3 C730.9,1008.4 738.4,996.4 744.1,989.1 C749.8,981.8 756.4,974.4 762.6,968.7 C768.8,963.0 774.4,959.1 781.2,954.8 C788.0,950.5 795.7,946.0 803.4,942.8 C811.1,939.6 819.8,937.7 827.5,935.8 C835.2,933.9 843.5,932.2 849.7,931.3 C855.9,930.4 860.0,930.1 864.6,930.2 C869.2,930.3 872.2,930.7 877.5,931.7 C882.8,932.7 889.9,934.5 896.1,936.3 C902.3,938.1 908.4,940.5 914.6,942.4 C920.8,944.2 925.5,945.3 933.1,947.4 C940.7,949.5 949.5,951.5 960.0,954.8 C970.5,958.0 982.5,963.2 996.3,966.9 C1010.1,970.6 1027.2,973.7 1042.7,977.1 C1058.2,980.5 1073.6,984.2 1089.0,987.3 C1104.4,990.4 1119.0,993.0 1135.3,995.6 C1151.6,998.2 1178.2,1001.9 1186.8,1003.2" fill="none" stroke="#000" stroke-width="4.0" stroke-linejoin="round" />
<path d="M728.3,1012.3 C730.9,1008.4 738.4,996.4 744.1,989.1 C749.8,981.8 756.4,974.4 762.6,968.7 C768.8,963.0 774.4,959.1 781.2,954.8 C788.0,950.5 795.7,946.0 803.4,942.8 C811.1,939.6 819.8,937.7 827.5,935.8 C835.2,933.9 843.5,932.2 849.7,931.3 C855.9,930.4 860.0,930.1 864.6,930.2 C869.2,930.3 872.2,930.7 877.5,931.7 C882.8,932.7 889.9,934.5 896.1,936.3 C902.3,938.1 908.4,940.5 914.6,942.4 C920.8,944.2 925.5,945.3 933.1,947.4 C940.7,949.5 949.5,951.5 960.0,954.8 C970.5,958.0 982.5,963.2 996.3,966.9 C1010.1,970.6 1027.2,973.7 1042.7,977.1 C1058.2,980.5 1073.6,984.2 1089.0,987.3 C1104.4,990.4 1119.0,993.0 1135.3,995.6 C1151.6,998.2 1178.2,1001.9 1186.8,1003.2" fill="none" stroke="#ff0000" stroke-width="4.2" stroke-linejoin="round" stroke-dasharray="7.5 16.5" stroke-linecap="round"/>
<line x1="1186.8" y1="3.0" x2="1186.8" y2="1113.0" stroke="#000" stroke-width="4.2" />
<line x1="702.4" y1="231.9" x2="1186.8" y2="231.9" stroke="#000" stroke-width="4.0" />
<line x1="704.0" y1="231.9" x2="704.0" y2="217.9" stroke="#000" stroke-width="4.2" />
<line x1="897.8" y1="231.9" x2="897.8" y2="217.9" stroke="#000" stroke-width="4.2" />
<line x1="1091.6" y1="231.9" x2="1091.6" y2="217.9" stroke="#000" stroke-width="4.2" />
<line x1="800.9" y1="231.9" x2="800.9" y2="223.9" stroke="#000" stroke-width="4.2" />
<line x1="994.7" y1="231.9" x2="994.7" y2="223.9" stroke="#000" stroke-width="4.2" />
<text x="704.0" y="261.0" font-size="34" text-anchor="middle" >0</text>
<text x="897.8" y="261.0" font-size="34" text-anchor="middle" >10</text>
<text x="1091.6" y="261.0" font-size="34" text-anchor="middle" >20</text>
<line x1="1186.8" y1="29.3" x2="1173.8" y2="29.3" stroke="#000" stroke-width="4.0" />
<line x1="1186.8" y1="164.8" x2="1173.8" y2="164.8" stroke="#000" stroke-width="4.0" />
<line x1="1186.8" y1="97.3" x2="1178.8" y2="97.3" stroke="#000" stroke-width="4.0" />
<text x="1200.4" y="36.0" font-size="34" text-anchor="start" >5.6</text>
<text x="1200.4" y="171.0" font-size="34" text-anchor="start" >5.4</text>
<line x1="702.4" y1="453.2" x2="1186.8" y2="453.2" stroke="#000" stroke-width="4.0" />
<line x1="704.0" y1="453.2" x2="704.0" y2="439.2" stroke="#000" stroke-width="4.2" />
<line x1="898.0" y1="453.2" x2="898.0" y2="439.2" stroke="#000" stroke-width="4.2" />
<line x1="1092.0" y1="453.2" x2="1092.0" y2="439.2" stroke="#000" stroke-width="4.2" />
<line x1="801.0" y1="453.2" x2="801.0" y2="445.2" stroke="#000" stroke-width="4.2" />
<line x1="995.0" y1="453.2" x2="995.0" y2="445.2" stroke="#000" stroke-width="4.2" />
<text x="704.0" y="482.4" font-size="34" text-anchor="middle" >0</text>
<text x="898.0" y="482.4" font-size="34" text-anchor="middle" >20</text>
<text x="1092.0" y="482.4" font-size="34" text-anchor="middle" >40</text>
<line x1="1186.8" y1="342.6" x2="1173.8" y2="342.6" stroke="#000" stroke-width="4.0" />
<text x="1194.6" y="351.0" font-size="34" text-anchor="start" >8</text>
<line x1="702.4" y1="673.2" x2="1186.8" y2="673.2" stroke="#000" stroke-width="4.0" />
<line x1="704.0" y1="673.2" x2="704.0" y2="659.2" stroke="#000" stroke-width="4.2" />
<line x1="905.0" y1="673.2" x2="905.0" y2="659.2" stroke="#000" stroke-width="4.2" />
<line x1="1106.0" y1="673.2" x2="1106.0" y2="659.2" stroke="#000" stroke-width="4.2" />
<line x1="804.5" y1="673.2" x2="804.5" y2="665.2" stroke="#000" stroke-width="4.2" />
<line x1="1005.5" y1="673.2" x2="1005.5" y2="665.2" stroke="#000" stroke-width="4.2" />
<text x="704.0" y="703.5" font-size="34" text-anchor="middle" >0</text>
<text x="905.0" y="703.5" font-size="34" text-anchor="middle" >25</text>
<text x="1106.0" y="703.5" font-size="34" text-anchor="middle" >50</text>
<line x1="1186.8" y1="474.5" x2="1173.8" y2="474.5" stroke="#000" stroke-width="4.0" />
<line x1="1186.8" y1="549.5" x2="1173.8" y2="549.5" stroke="#000" stroke-width="4.0" />
<line x1="1186.8" y1="625.0" x2="1173.8" y2="625.0" stroke="#000" stroke-width="4.0" />
<line x1="1186.8" y1="512.2" x2="1178.8" y2="512.2" stroke="#000" stroke-width="4.0" />
<line x1="1186.8" y1="587.5" x2="1178.8" y2="587.5" stroke="#000" stroke-width="4.0" />
<line x1="1186.8" y1="664.0" x2="1178.8" y2="664.0" stroke="#000" stroke-width="4.0" />
<text x="1192.6" y="484.5" font-size="34" text-anchor="start" >7.0</text>
<text x="1192.6" y="560.0" font-size="34" text-anchor="start" >3.5</text>
<text x="1192.6" y="636.0" font-size="34" text-anchor="start" >0.0</text>
<line x1="702.4" y1="894.4" x2="1186.8" y2="894.4" stroke="#000" stroke-width="4.0" />
<line x1="704.0" y1="894.4" x2="704.0" y2="880.4" stroke="#000" stroke-width="4.2" />
<line x1="842.0" y1="894.4" x2="842.0" y2="880.4" stroke="#000" stroke-width="4.2" />
<line x1="980.0" y1="894.4" x2="980.0" y2="880.4" stroke="#000" stroke-width="4.2" />
<line x1="1118.0" y1="894.4" x2="1118.0" y2="880.4" stroke="#000" stroke-width="4.2" />
<line x1="773.0" y1="894.4" x2="773.0" y2="886.4" stroke="#000" stroke-width="4.2" />
<line x1="911.0" y1="894.4" x2="911.0" y2="886.4" stroke="#000" stroke-width="4.2" />
<line x1="1049.0" y1="894.4" x2="1049.0" y2="886.4" stroke="#000" stroke-width="4.2" />
<text x="704.0" y="924.0" font-size="34" text-anchor="middle" >0</text>
<text x="842.0" y="924.0" font-size="34" text-anchor="middle" >10</text>
<text x="980.0" y="924.0" font-size="34" text-anchor="middle" >20</text>
<text x="1118.0" y="924.0" font-size="34" text-anchor="middle" >30</text>
<line x1="1186.8" y1="707.4" x2="1173.8" y2="707.4" stroke="#000" stroke-width="4.0" />
<line x1="1186.8" y1="793.4" x2="1173.8" y2="793.4" stroke="#000" stroke-width="4.0" />
<line x1="1186.8" y1="878.0" x2="1173.8" y2="878.0" stroke="#000" stroke-width="4.0" />
<line x1="1186.8" y1="750.1" x2="1178.8" y2="750.1" stroke="#000" stroke-width="4.0" />
<line x1="1186.8" y1="835.5" x2="1178.8" y2="835.5" stroke="#000" stroke-width="4.0" />
<text x="1196.6" y="721.0" font-size="34" text-anchor="start" >5.0</text>
<text x="1195.7" y="805.0" font-size="34" text-anchor="start" >2.5</text>
<text x="1195.7" y="892.0" font-size="34" text-anchor="start" >0.0</text>
<line x1="702.4" y1="1111.0" x2="1186.8" y2="1111.0" stroke="#000" stroke-width="4.0" />
<line x1="704.0" y1="1111.0" x2="704.0" y2="1097.0" stroke="#000" stroke-width="4.2" />
<line x1="945.4" y1="1111.0" x2="945.4" y2="1097.0" stroke="#000" stroke-width="4.2" />
<line x1="1186.8" y1="1111.0" x2="1186.8" y2="1097.0" stroke="#000" stroke-width="4.2" />
<line x1="824.7" y1="1111.0" x2="824.7" y2="1103.0" stroke="#000" stroke-width="4.2" />
<line x1="1066.1" y1="1111.0" x2="1066.1" y2="1103.0" stroke="#000" stroke-width="4.2" />
<text x="704.0" y="1142.5" font-size="34" text-anchor="middle" >0</text>
<text x="945.4" y="1142.5" font-size="34" text-anchor="middle" >20</text>
<text x="1186.8" y="1142.5" font-size="34" text-anchor="middle" >40</text>
<line x1="1186.8" y1="942.2" x2="1173.8" y2="942.2" stroke="#000" stroke-width="4.0" />
<line x1="1186.8" y1="1088.2" x2="1173.8" y2="1088.2" stroke="#000" stroke-width="4.0" />
<line x1="1186.8" y1="1015.7" x2="1178.8" y2="1015.7" stroke="#000" stroke-width="4.0" />
<text x="1190.3" y="952.0" font-size="34" text-anchor="start" >1.5</text>
<text x="1188.1" y="1097.0" font-size="34" text-anchor="start" >0.0</text>
<line x1="677.0" y1="121.6" x2="733.6" y2="121.6" stroke="#000" stroke-width="4.0" />
<text x="738.5" y="132.0" font-size="25.5" text-anchor="start" >ZFC_tw</text>
<line x1="679.0" y1="154.5" x2="733.0" y2="154.5" stroke="#ff0000" stroke-width="4.2" stroke-dasharray="7.5 16.5" stroke-linecap="round"/>
<text x="738.5" y="163.0" font-size="25.5" text-anchor="start" >ZFC_ref</text>
<line x1="687.0" y1="197.2" x2="731.0" y2="197.2" stroke="#0000ff" stroke-width="4.8" />
<text x="734.5" y="201" font-size="25.5">ZFC<tspan font-size="17" dy="10">tw</tspan><tspan dy="-10">-ZFC</tspan><tspan font-size="17" dy="10">ref</tspan></text>
<line x1="949.4" y1="60.5" x2="949.4" y2="197.5" stroke="#000" stroke-width="3.0" />
<line x1="949.4" y1="197.5" x2="1133.0" y2="197.5" stroke="#000" stroke-width="3.0" />
<line x1="949.4" y1="197.5" x2="949.4" y2="188.5" stroke="#000" stroke-width="3.0" />
<line x1="1077.9" y1="197.5" x2="1077.9" y2="188.5" stroke="#000" stroke-width="3.0" />
<line x1="1013.6" y1="197.5" x2="1013.6" y2="191.5" stroke="#000" stroke-width="3.0" />
<text x="949.4" y="222.0" font-size="25.5" text-anchor="middle" >5</text>
<text x="1077.9" y="222.0" font-size="25.5" text-anchor="middle" >10</text>
<line x1="949.4" y1="67.2" x2="958.9" y2="67.2" stroke="#000" stroke-width="3.0" />
<text x="942.4" y="76.7" font-size="25.5" text-anchor="end" >0.0000</text>
<line x1="949.4" y1="166.8" x2="958.9" y2="166.8" stroke="#000" stroke-width="3.0" />
<text x="942.4" y="176.3" font-size="25.5" text-anchor="end" >-0.0015</text>
<line x1="949.4" y1="117.7" x2="955.4" y2="117.7" stroke="#000" stroke-width="3.0" />
<polyline points="949.4,143.6 976.8,130.8 1025.4,181.5 1038.6,181.5 1053.8,82.4 1079.3,62.8 1105.3,70.1 1125.9,59.8" fill="none" stroke="#0000ff" stroke-width="4.8" stroke-linejoin="round" />
<text x="1064.3" y="151.0" font-size="26.5" font-style="italic">T</text>
<text x="1078.5" y="167.8" font-size="19.5">H</text>
<text x="1092.0" y="151.0" font-size="26.5">= 7 K</text>
<line x1="954.2" y1="285.0" x2="954.2" y2="411.6" stroke="#000" stroke-width="3.0" />
<line x1="954.2" y1="411.6" x2="1138.0" y2="411.6" stroke="#000" stroke-width="3.0" />
<line x1="998.4" y1="411.6" x2="998.4" y2="402.6" stroke="#000" stroke-width="3.0" />
<line x1="1045.0" y1="411.6" x2="1045.0" y2="402.6" stroke="#000" stroke-width="3.0" />
<line x1="1091.6" y1="411.6" x2="1091.6" y2="402.6" stroke="#000" stroke-width="3.0" />
<line x1="1138.2" y1="411.6" x2="1138.2" y2="402.6" stroke="#000" stroke-width="3.0" />
<line x1="975.1" y1="411.6" x2="975.1" y2="405.6" stroke="#000" stroke-width="3.0" />
<line x1="1021.7" y1="411.6" x2="1021.7" y2="405.6" stroke="#000" stroke-width="3.0" />
<line x1="1068.3" y1="411.6" x2="1068.3" y2="405.6" stroke="#000" stroke-width="3.0" />
<line x1="1114.9" y1="411.6" x2="1114.9" y2="405.6" stroke="#000" stroke-width="3.0" />
<text x="998.4" y="433.7" font-size="25.5" text-anchor="middle" >4</text>
<text x="1045.0" y="433.7" font-size="25.5" text-anchor="middle" >6</text>
<text x="1091.6" y="433.7" font-size="25.5" text-anchor="middle" >8</text>
<text x="1138.2" y="433.7" font-size="25.5" text-anchor="middle" >10</text>
<line x1="954.2" y1="306.2" x2="963.7" y2="306.2" stroke="#000" stroke-width="3.0" />
<text x="947.2" y="315.7" font-size="25.5" text-anchor="end" >-0.006</text>
<line x1="954.2" y1="362.6" x2="963.7" y2="362.6" stroke="#000" stroke-width="3.0" />
<text x="947.2" y="372.1" font-size="25.5" text-anchor="end" >-0.009</text>
<line x1="954.2" y1="334.4" x2="960.2" y2="334.4" stroke="#000" stroke-width="3.0" />
<line x1="954.2" y1="390.8" x2="960.2" y2="390.8" stroke="#000" stroke-width="3.0" />
<polyline points="969.0,286.6 997.4,372.4 1002.3,379.8 1023.0,394.5 1047.4,371.4 1069.5,356.7 1094.0,343.0 1116.0,332.2 1135.7,312.6" fill="none" stroke="#0000ff" stroke-width="4.8" stroke-linejoin="round" />
<text x="1089.5" y="381.0" font-size="26.5" font-style="italic">T</text>
<text x="1103.7" y="397.8" font-size="19.5">H</text>
<text x="1117.2" y="381.0" font-size="26.5">= 5 K</text>
<line x1="916.0" y1="536.0" x2="916.0" y2="645.5" stroke="#000" stroke-width="3.0" />
<line x1="916.0" y1="645.5" x2="1084.2" y2="645.5" stroke="#000" stroke-width="3.0" />
<line x1="916.0" y1="645.5" x2="916.0" y2="636.5" stroke="#000" stroke-width="3.0" />
<line x1="958.1" y1="645.5" x2="958.1" y2="636.5" stroke="#000" stroke-width="3.0" />
<line x1="1000.1" y1="645.5" x2="1000.1" y2="636.5" stroke="#000" stroke-width="3.0" />
<line x1="1042.2" y1="645.5" x2="1042.2" y2="636.5" stroke="#000" stroke-width="3.0" />
<line x1="1084.2" y1="645.5" x2="1084.2" y2="636.5" stroke="#000" stroke-width="3.0" />
<line x1="937.0" y1="645.5" x2="937.0" y2="639.5" stroke="#000" stroke-width="3.0" />
<line x1="979.1" y1="645.5" x2="979.1" y2="639.5" stroke="#000" stroke-width="3.0" />
<line x1="1021.1" y1="645.5" x2="1021.1" y2="639.5" stroke="#000" stroke-width="3.0" />
<line x1="1063.2" y1="645.5" x2="1063.2" y2="639.5" stroke="#000" stroke-width="3.0" />
<text x="916.0" y="669.5" font-size="25.5" text-anchor="middle" >2</text>
<text x="958.1" y="669.5" font-size="25.5" text-anchor="middle" >4</text>
<text x="1000.1" y="669.5" font-size="25.5" text-anchor="middle" >6</text>
<text x="1042.2" y="669.5" font-size="25.5" text-anchor="middle" >8</text>
<text x="1084.2" y="669.5" font-size="25.5" text-anchor="middle" >10</text>
<line x1="916.0" y1="544.5" x2="925.5" y2="544.5" stroke="#000" stroke-width="3.0" />
<text x="909.0" y="554.0" font-size="25.5" text-anchor="end" >-0.010</text>
<line x1="916.0" y1="586.1" x2="925.5" y2="586.1" stroke="#000" stroke-width="3.0" />
<text x="909.0" y="595.6" font-size="25.5" text-anchor="end" >-0.015</text>
<line x1="916.0" y1="627.8" x2="925.5" y2="627.8" stroke="#000" stroke-width="3.0" />
<text x="909.0" y="637.3" font-size="25.5" text-anchor="end" >-0.020</text>
<line x1="916.0" y1="565.3" x2="922.0" y2="565.3" stroke="#000" stroke-width="3.0" />
<line x1="916.0" y1="607.0" x2="922.0" y2="607.0" stroke="#000" stroke-width="3.0" />
<polyline points="916.0,544.5 939.5,607.7 951.8,611.6 981.2,620.0 1008.2,597.9 1023.0,596.9 1042.5,578.3 1064.6,568.5 1082.8,555.3" fill="none" stroke="#0000ff" stroke-width="4.8" stroke-linejoin="round" />
<text x="1066.0" y="612.3" font-size="26.5" font-style="italic">T</text>
<text x="1080.2" y="629.1" font-size="19.5">H</text>
<text x="1093.7" y="612.3" font-size="26.5">= 5 K</text>
<line x1="862.5" y1="750.7" x2="862.5" y2="858.6" stroke="#000" stroke-width="3.0" />
<line x1="862.5" y1="858.6" x2="1050.9" y2="858.6" stroke="#000" stroke-width="3.0" />
<line x1="862.5" y1="858.6" x2="862.5" y2="849.6" stroke="#000" stroke-width="3.0" />
<line x1="909.6" y1="858.6" x2="909.6" y2="849.6" stroke="#000" stroke-width="3.0" />
<line x1="956.7" y1="858.6" x2="956.7" y2="849.6" stroke="#000" stroke-width="3.0" />
<line x1="1003.8" y1="858.6" x2="1003.8" y2="849.6" stroke="#000" stroke-width="3.0" />
<line x1="1050.9" y1="858.6" x2="1050.9" y2="849.6" stroke="#000" stroke-width="3.0" />
<line x1="886.0" y1="858.6" x2="886.0" y2="852.6" stroke="#000" stroke-width="3.0" />
<line x1="933.1" y1="858.6" x2="933.1" y2="852.6" stroke="#000" stroke-width="3.0" />
<line x1="980.2" y1="858.6" x2="980.2" y2="852.6" stroke="#000" stroke-width="3.0" />
<line x1="1027.3" y1="858.6" x2="1027.3" y2="852.6" stroke="#000" stroke-width="3.0" />
<text x="862.5" y="879.5" font-size="25.5" text-anchor="middle" >2</text>
<text x="909.6" y="879.5" font-size="25.5" text-anchor="middle" >4</text>
<text x="956.7" y="879.5" font-size="25.5" text-anchor="middle" >6</text>
<text x="1003.8" y="879.5" font-size="25.5" text-anchor="middle" >8</text>
<text x="1050.9" y="879.5" font-size="25.5" text-anchor="middle" >10</text>
<line x1="862.5" y1="771.8" x2="872.0" y2="771.8" stroke="#000" stroke-width="3.0" />
<text x="855.5" y="781.3" font-size="25.5" text-anchor="end" >0.00</text>
<line x1="862.5" y1="816.0" x2="872.0" y2="816.0" stroke="#000" stroke-width="3.0" />
<text x="855.5" y="825.5" font-size="25.5" text-anchor="end" >-0.02</text>
<line x1="862.5" y1="858.6" x2="872.0" y2="858.6" stroke="#000" stroke-width="3.0" />
<text x="855.5" y="868.1" font-size="25.5" text-anchor="end" >-0.04</text>
<line x1="862.5" y1="794.0" x2="868.5" y2="794.0" stroke="#000" stroke-width="3.0" />
<line x1="862.5" y1="837.0" x2="868.5" y2="837.0" stroke="#000" stroke-width="3.0" />
<polyline points="862.5,754.2 888.0,777.7 912.6,783.6 934.6,807.1 957.7,829.2 981.2,816.9 1003.3,791.4 1027.8,786.5 1050.9,785.0" fill="none" stroke="#0000ff" stroke-width="4.8" stroke-linejoin="round" />
<text x="1062.6" y="831.5" font-size="26.5" font-style="italic">T</text>
<text x="1076.8" y="848.3" font-size="19.5">H</text>
<text x="1090.3" y="831.5" font-size="26.5">= 6 K</text>
<text x="791.0" y="810.0" font-size="14" text-anchor="start" >.</text>
<text x="952.0" y="912.0" font-size="16" text-anchor="start" >.</text>
<line x1="819.4" y1="970.7" x2="819.4" y2="1081.0" stroke="#000" stroke-width="3.0" />
<line x1="819.4" y1="1081.0" x2="993.5" y2="1081.0" stroke="#000" stroke-width="3.0" />
<line x1="819.4" y1="1081.0" x2="819.4" y2="1072.0" stroke="#000" stroke-width="3.0" />
<line x1="873.4" y1="1081.0" x2="873.4" y2="1072.0" stroke="#000" stroke-width="3.0" />
<line x1="927.4" y1="1081.0" x2="927.4" y2="1072.0" stroke="#000" stroke-width="3.0" />
<line x1="981.4" y1="1081.0" x2="981.4" y2="1072.0" stroke="#000" stroke-width="3.0" />
<line x1="846.4" y1="1081.0" x2="846.4" y2="1075.0" stroke="#000" stroke-width="3.0" />
<line x1="900.4" y1="1081.0" x2="900.4" y2="1075.0" stroke="#000" stroke-width="3.0" />
<line x1="954.4" y1="1081.0" x2="954.4" y2="1075.0" stroke="#000" stroke-width="3.0" />
<text x="819.4" y="1104.6" font-size="25.5" text-anchor="middle" >2</text>
<text x="873.4" y="1104.6" font-size="25.5" text-anchor="middle" >4</text>
<text x="927.4" y="1104.6" font-size="25.5" text-anchor="middle" >6</text>
<text x="981.4" y="1104.6" font-size="25.5" text-anchor="middle" >8</text>
<line x1="819.4" y1="999.2" x2="828.9" y2="999.2" stroke="#000" stroke-width="3.0" />
<text x="812.4" y="1008.7" font-size="25.5" text-anchor="end" >0.000</text>
<line x1="819.4" y1="1053.1" x2="828.9" y2="1053.1" stroke="#000" stroke-width="3.0" />
<text x="812.4" y="1062.6" font-size="25.5" text-anchor="end" >-0.001</text>
<line x1="819.4" y1="972.2" x2="825.4" y2="972.2" stroke="#000" stroke-width="3.0" />
<line x1="819.4" y1="1026.0" x2="825.4" y2="1026.0" stroke="#000" stroke-width="3.0" />
<polyline points="860.1,1002.6 873.3,1037.0 889.0,1052.6 910.1,1032.0 934.6,1000.2 954.3,988.9 992.5,968.3" fill="none" stroke="#0000ff" stroke-width="4.8" stroke-linejoin="round" />
<text x="1016.0" y="1055.5" font-size="26.5" font-style="italic">T</text>
<text x="1030.2" y="1072.3" font-size="19.5">H</text>
<text x="1043.7" y="1055.5" font-size="26.5">= 4 K</text>
<text x="330.0" y="1189.3" font-size="43" text-anchor="start" ><tspan font-style="italic">T</tspan>(K)</text>
<text x="865.0" y="1188.4" font-size="43" text-anchor="start" ><tspan font-style="italic">T</tspan>(K)</text>
<text transform="translate(40,581) rotate(-90)" font-size="55.5" text-anchor="middle"><tspan font-style="italic">M</tspan> (emu/gm)</text>
<text transform="translate(1253,573) rotate(90)" font-size="55.5" text-anchor="middle"><tspan font-style="italic">M</tspan> (emu/gm)</text>
</g>
</svg>
</body></html>
